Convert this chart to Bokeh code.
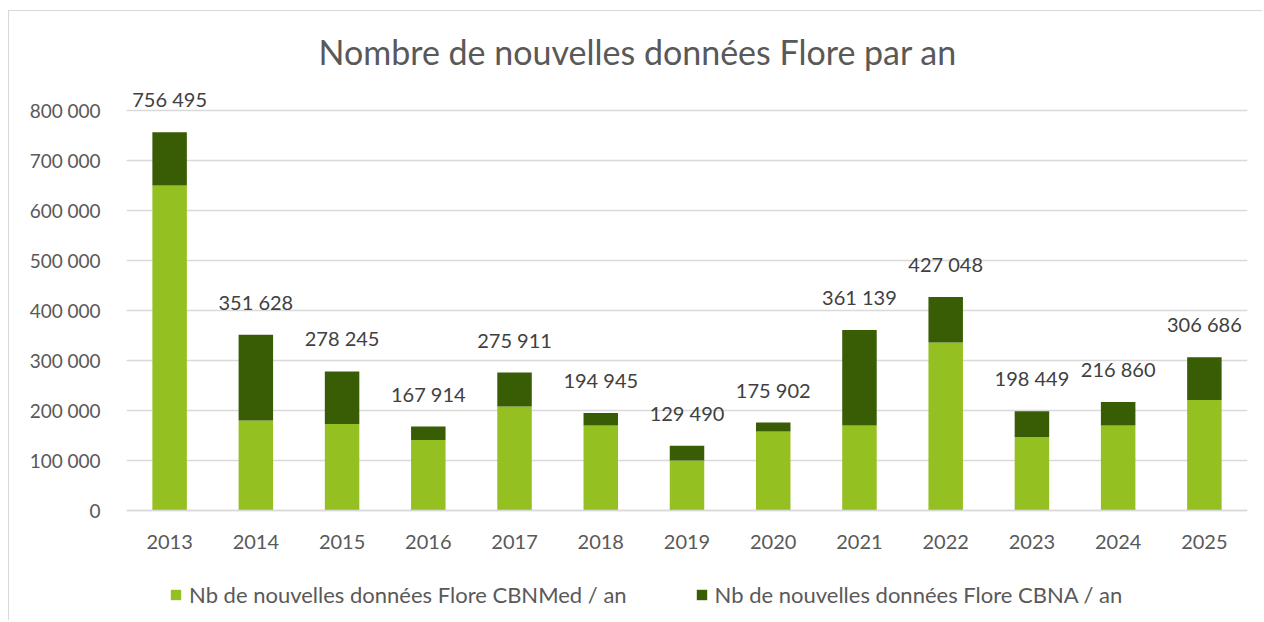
from bokeh.plotting import figure
from bokeh.models import ColumnDataSource, Range1d, FactorRange, FixedTicker, Legend, LegendItem
from bokeh.core.properties import value
from bokeh.embed import file_html
from bokeh.resources import INLINE

years = ["2013", "2014", "2015", "2016", "2017", "2018", "2019",
         "2020", "2021", "2022", "2023", "2024", "2025"]
cbnmed = [650000, 180000, 173000, 141000, 208000, 170000, 100000,
          158000, 170000, 336000, 147000, 170000, 221000]
cbna = [106495, 171628, 105245, 26914, 67911, 24945, 29490,
        17902, 191139, 91048, 51449, 46860, 85686]
y_ticks = [0, 100000, 200000, 300000, 400000, 500000, 600000, 700000, 800000]
y_tick_labels = ["0", "100\u202f000", "200\u202f000", "300\u202f000", "400\u202f000",
                 "500\u202f000", "600\u202f000", "700\u202f000", "800\u202f000"]
series_names = ["Nb de nouvelles données Flore CBNMed / an",
                "Nb de nouvelles données Flore CBNA / an"]
title_text = "Nombre de nouvelles données Flore par an"

LIGHT = "#95C022"
DARK = "#385D04"
FONT = "Lato"

totals = [a + b for a, b in zip(cbnmed, cbna)]
labels = ["{:,}".format(t).replace(",", " ") for t in totals]

src = ColumnDataSource(dict(year=years, cbnmed=cbnmed, cbna=cbna,
                            total=totals, label=labels))

p = figure(x_range=FactorRange(*years, range_padding=0),
           y_range=Range1d(-220000, 872000),
           width=1262, height=620, output_backend="svg", toolbar_location=None,
           min_border_left=126, min_border_right=15, min_border_top=74,
           min_border_bottom=0)

p.title.text = title_text
p.title.text_font = FONT
p.title.text_font_size = "34px"
p.title.text_font_style = "normal"
p.title.text_color = "#595959"
p.title.align = "left"
p.title.offset = 192
p.title.standoff = 6

r = p.vbar_stack(["cbnmed", "cbna"], x="year", width=0.4, color=[LIGHT, DARK],
                 line_color=None, source=src)

p.text(x="year", y="total", text="label", source=src, text_align="center",
       text_baseline="bottom", y_offset=-21, text_font=value(FONT),
       text_font_size="20px", text_color="#404040")

p.outline_line_color = None
p.xgrid.grid_line_color = None
p.ygrid.grid_line_color = "#d9d9d9"
p.ygrid.grid_line_width = 1.5
p.yaxis.ticker = FixedTicker(ticks=y_ticks)
p.yaxis.major_label_overrides = {t: l for t, l in zip(y_ticks, y_tick_labels)}
p.yaxis.axis_line_color = None
p.yaxis.major_tick_line_color = None
p.yaxis.minor_tick_line_color = None
p.yaxis.major_label_standoff = 20
p.yaxis.major_label_text_font = FONT
p.yaxis.major_label_text_font_size = "19px"
p.yaxis.major_label_text_color = "#595959"

p.xaxis.fixed_location = 0
p.xaxis.axis_line_color = "#d9d9d9"
p.xaxis.axis_line_width = 1.5
p.xaxis.major_tick_line_color = None
p.xaxis.minor_tick_line_color = None
p.xaxis.major_label_standoff = 18
p.xaxis.major_label_text_font = FONT
p.xaxis.major_label_text_font_size = "20px"
p.xaxis.major_label_text_color = "#595959"

legend = Legend(items=[LegendItem(label=series_names[0], renderers=[r[0]]),
                       LegendItem(label=series_names[1], renderers=[r[1]])],
                orientation="horizontal", location=(43, 12),
                label_text_font=FONT, label_text_font_size="22px",
                label_text_color="#595959", glyph_width=13, glyph_height=13,
                spacing=68, padding=4, margin=0, border_line_color=None,
                background_fill_alpha=0, label_standoff=7)
p.add_layout(legend, "center")

# light chart-area border (left and top edges) drawn behind a transparent canvas
p.border_fill_color = None
p.background_fill_color = None
p.styles = {
    "background": ("linear-gradient(#d9d9d9,#d9d9d9) 8px 10px / 1px 100% no-repeat, "
                   "linear-gradient(#d9d9d9,#d9d9d9) 8px 10px / 100% 1px no-repeat, "
                   "#ffffff"),
}

open("out.html", "w").write(file_html(p, INLINE))
